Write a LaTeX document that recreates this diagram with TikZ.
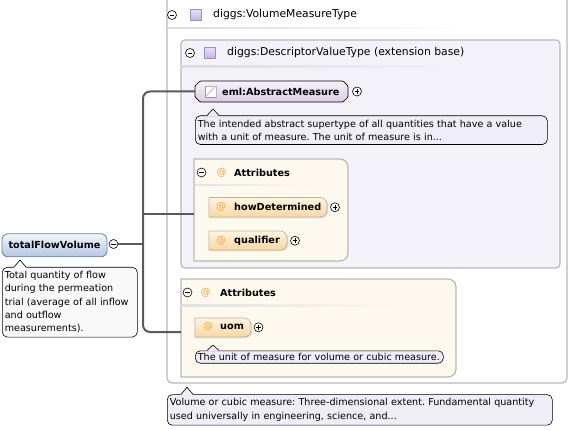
\documentclass[tikz,border=0pt]{standalone}
\usepackage{fontspec}
\setmainfont{DejaVu Sans}
\usetikzlibrary{shadows}
\frenchspacing
\definecolor{connc}{HTML}{5A5A5A}
\definecolor{boxgray}{HTML}{B8B8B8}
\definecolor{lavfill}{HTML}{F4F2F9}
\definecolor{creamfill}{HTML}{FEF9EF}
\definecolor{docfill}{HTML}{EFEDF7}
\definecolor{docwhite}{HTML}{F9F9F9}
\definecolor{atc}{HTML}{F2A33A}
\definecolor{elemtop}{HTML}{F2F6FC}
\definecolor{elembot}{HTML}{B3C6E3}
\definecolor{elemline}{HTML}{6F7F97}
\definecolor{amtop}{HTML}{F8F2F9}
\definecolor{ambot}{HTML}{DACBE5}
\definecolor{attop}{HTML}{FFF5E2}
\definecolor{atbot}{HTML}{F9D7A0}
\definecolor{atline}{HTML}{BFB29C}
\definecolor{sqtop}{HTML}{E6E0F4}
\definecolor{sqbot}{HTML}{C2B4E2}
\definecolor{sqline}{HTML}{9C8EC0}

% tail of a doc bubble: x, base y, fill colour, height
\newcommand\bubtail[4]{%
  \fill[#3] ({#1-6},{#2+0.8}) -- (#1,{#2-#4}) -- ({#1+6},{#2+0.8}) -- cycle;
  \draw[line width=0.6, line join=round] ({#1-6},#2) -- (#1,{#2-#4}) -- ({#1+6},#2);}
% shape with rounded right end: style, x1, y1, x2, y2, r
\newcommand\rtab[6]{%
  \path[#1] (#2,#3) -- ({#4-#6},#3) arc[start angle=-90,end angle=0,radius=#6]
    -- (#4,{#5-#6}) arc[start angle=0,end angle=90,radius=#6] -- (#2,#5) -- cycle;}

\begin{document}
\begin{tikzpicture}[x=1pt,y=-1pt,
  conn/.style={draw=connc, line width=2},
  minusc/.style={circle, draw=black, line width=0.6, fill=white, minimum size=9, inner sep=0,
    path picture={\draw[line width=0.8] ([xshift=2.2pt]path picture bounding box.west) -- ([xshift=-2.2pt]path picture bounding box.east);}},
  plusc/.style={circle, draw=black, line width=0.6, fill=white, minimum size=9, inner sep=0,
    path picture={\draw[line width=0.8] ([xshift=2.2pt]path picture bounding box.west) -- ([xshift=-2.2pt]path picture bounding box.east)
      ([yshift=2.2pt]path picture bounding box.south) -- ([yshift=-2.2pt]path picture bounding box.north);}},
  sqicon/.style={draw=sqline, line width=0.6, minimum size=11, inner sep=0, top color=sqtop, bottom color=sqbot},
  hdr/.style={font=\fontsize{10.8}{12}\selectfont, inner sep=0, anchor=west},
  lbl/.style={font=\fontsize{9.7}{12}\selectfont\bfseries, inner sep=0, anchor=west},
  atsym/.style={text=atc, font=\fontsize{10}{12}\selectfont, inner sep=0},
  docbox/.style={draw=black, line width=0.6, rounded corners=5, fill=docfill, inner xsep=2.5, inner ysep=4,
    align=left, anchor=north west, font=\fontsize{9.6}{13.3}\selectfont},
  boxline/.style={draw=boxgray, line width=1.2},
  tabshape/.style={draw=atline, line width=0.7, top color=attop, bottom color=atbot,
    drop shadow={shadow xshift=1.2pt, shadow yshift=-1.2pt, opacity=0.25}}
]
\useasboundingbox (0,0) rectangle (570,430);

% outer type box
\draw[boxline, fill=white, rounded corners=5] (167,-10) rectangle (567,383);
\node[minusc] (m1) at (172,15) {};
\node[sqicon] (s1) at (196,15) {};
\node[hdr] (t1) at (213,15) {diggs:VolumeMeasureType};
\shade[left color=black!14, right color=white] (167.6,27.5) rectangle (468,29);

% extension base box
\draw[boxline, fill=lavfill, rounded corners=4] (181,40) rectangle (560,268);
\node[minusc] (m2) at (190,53) {};
\node[sqicon] (s2) at (210,53) {};
\node[hdr] (t2) at (227,53) {diggs:DescriptorValueType (extension base)};
\shade[left color=black!14, right color=lavfill] (181.6,66) rectangle (468,67.5);

% eml:AbstractMeasure
\draw[line width=0.7, top color=amtop, bottom color=ambot, rounded corners=1]
  (200,81) -- (343,81) -- (348,86) -- (348,97) -- (343,102) -- (200,102) -- (195,97) -- (195,86) -- cycle;
\draw[sqline!70, line width=0.6, fill=white] (205,86) rectangle (216,97);
\draw[sqline!50, line width=1.2] (206,96) -- (215,87);
\draw[sqline, line width=0.8] (205,86) -- (205,97) -- (216,97);
\node[lbl] (am) at (222,91.5) {eml:AbstractMeasure};
\coordinate (amw) at (195,91.5);
\node[plusc] (amp) at (357,91.5) {};
\node[docbox, text width=347] (d2) at (195,115.5)
  {The intended abstract supertype of all quantities that have a value\\with a unit of measure. The unit of measure is in...};
\bubtail{213}{115.5}{docfill}{6.5}

% attributes box 1
\rtab{boxline, fill=creamfill}{194}{159}{348}{261}{8}
\coordinate (a1w) at (194,214);
\node[minusc] (m3) at (201.5,172.5) {};
\node[atsym] (at3) at (221.5,172.5) {@};
\node[lbl] (t3) at (234,172.5) {Attributes};
\shade[left color=black!12, right color=creamfill] (194.6,184.5) rectangle (313,186);

\rtab{tabshape}{209}{197.5}{327}{217}{7}
\node[atsym] (at4) at (221,207.3) {@};
\node[lbl] (hd) at (234,207.3) {howDetermined};
\node[plusc] (hdp) at (335,207.3) {};

\rtab{tabshape}{209}{231}{287}{250}{7}
\node[atsym] (at5) at (221,240.5) {@};
\node[lbl] (ql) at (234,240.5) {qualifier};
\node[plusc] (qlp) at (295,240.7) {};

% attributes box 2
\rtab{boxline, fill=creamfill}{181}{279}{456}{377}{8}
\coordinate (a2w) at (181,332);
\node[minusc] (m6) at (187.5,292.5) {};
\node[atsym] (at6) at (205.5,292.5) {@};
\node[lbl] (t6) at (220,292.5) {Attributes};
\shade[left color=black!12, right color=creamfill] (181.6,304.5) rectangle (400,306);

\rtab{tabshape}{195}{318}{251}{337}{7}
\node[atsym] (at7) at (208,327.3) {@};
\node[lbl] (uom) at (220,327.3) {uom};
\node[plusc] (uomp) at (258.5,327.3) {};
\node[docbox, inner ysep=2.5, text width=243] (d3) at (195,350.5)
  {The unit of measure for volume or cubic measure.};
\bubtail{213}{350.5}{docfill}{5.5}

% bottom doc
\node[docbox, text width=380] (d4) at (167,394.3)
  {Volume or cubic measure: Three-dimensional extent. Fundamental quantity\\used universally in engineering, science, and...};
\bubtail{187}{394.3}{docfill}{7}

% element
\node[draw=elemline, line width=0.8, rounded corners=6, top color=elemtop, bottom color=elembot,
  minimum width=105, minimum height=23, inner sep=0, font=\fontsize{9.7}{12}\selectfont\bfseries] (tfv) at (54.5,245.3) {totalFlowVolume};
\node[minusc] (tfvm) at (113.5,244) {};
\node[docbox, fill=docwhite, text width=130] (d1) at (2,267)
  {Total quantity of flow\\during the permeation\\trial (average of all inflow\\and outflow\\measurements).};
\bubtail{20}{267}{docwhite}{7}

% connectors
\coordinate (sp) at (143,244);
\draw[conn] (tfvm) -- (sp);
\draw[conn, rounded corners=7] (amw) -| (sp) |- (a2w);
\draw[conn] (sp |- a1w) -- (a1w);
\end{tikzpicture}
\end{document}
